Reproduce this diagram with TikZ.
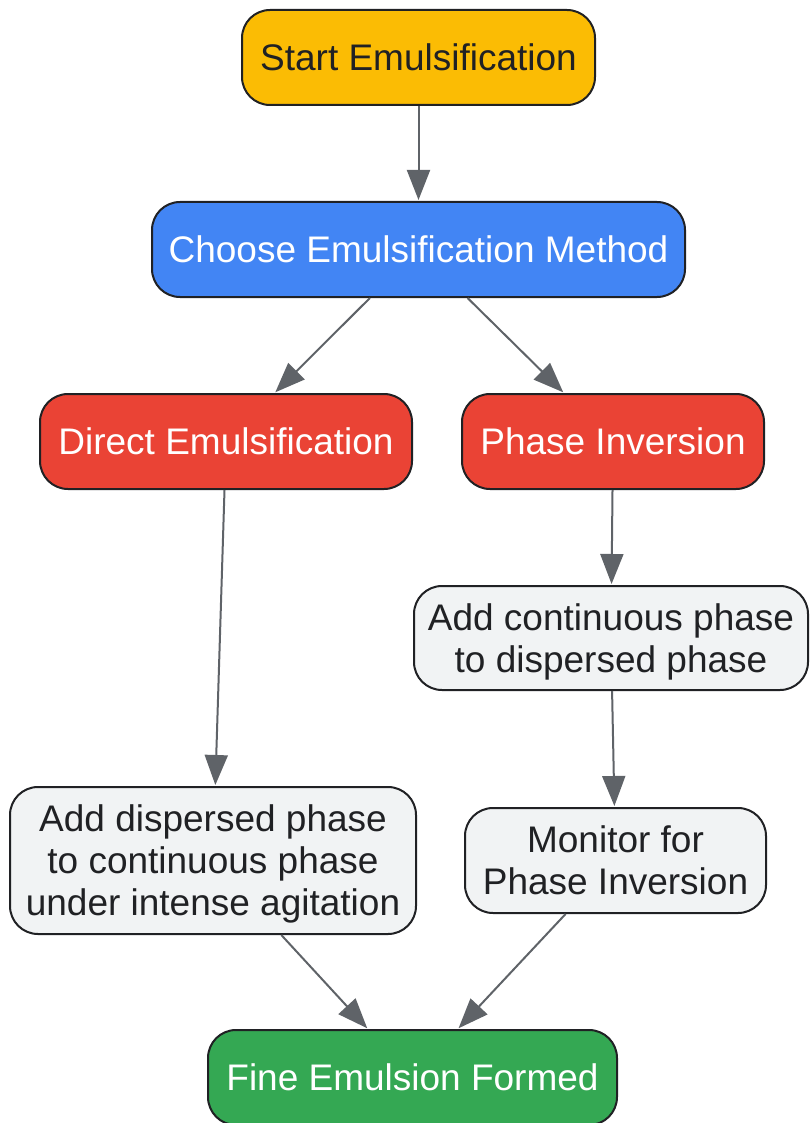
\documentclass[tikz,border=0pt]{standalone}
\usepackage{fontspec}
\setmainfont{Liberation Sans}
\usetikzlibrary{arrows.meta}
\definecolor{startc}{HTML}{FBBC04}
\definecolor{choosec}{HTML}{4285F4}
\definecolor{methodc}{HTML}{EA4335}
\definecolor{stepc}{HTML}{F1F3F4}
\definecolor{endc}{HTML}{34A853}
\definecolor{linec}{HTML}{202124}
\definecolor{flowc}{HTML}{5F6368}
\tikzstyle{block}=[draw=linec,line width=2pt,rounded corners=28pt,inner sep=0pt,align=center,
  text depth=0pt,font=\fontsize{37}{42}\selectfont]
\tikzstyle{dark}=[text=linec]
\tikzstyle{light}=[text=white]
\tikzstyle{flow}=[draw=flowc,line width=2pt,-{Triangle[length=30pt,width=23pt]},shorten >=1pt]
\newcommand{\newBlock}[4]{\node[block,#3](#1) at (#4) {#2};}
\newcommand{\newFlow}[2]{\draw[flow] (#1) -- (#2);}

\begin{document}
\begin{tikzpicture}[x=1pt,y=-1pt]
    \useasboundingbox (0,0) rectangle (809,1123);
    \newBlock{start}{Start Emulsification}{dark,fill=startc,minimum width=353pt,minimum height=95pt}{418.5,57.5}
    \newBlock{choose}{Choose Emulsification Method}{light,fill=choosec,minimum width=533pt,minimum height=95pt}{418.5,249.5}
    \newBlock{direct}{Direct Emulsification}{light,fill=methodc,minimum width=372pt,minimum height=95pt}{226,441.5}
    \newBlock{inversion}{Phase Inversion}{light,fill=methodc,minimum width=302pt,minimum height=95pt}{613,441.5}
    \newBlock{addcont}{Add continuous phase\\to dispersed phase}{dark,fill=stepc,minimum width=394pt,minimum height=104pt}{611,638}
    \newBlock{adddisp}{Add dispersed phase\\to continuous phase\\under intense agitation}{dark,fill=stepc,minimum width=406pt,minimum height=147pt}{213,860.5}
    \newBlock{monitor}{Monitor for\\Phase Inversion}{dark,fill=stepc,minimum width=301pt,minimum height=105pt}{615.5,860.5}
    \newBlock{fine}{Fine Emulsion Formed}{light,fill=endc,minimum width=409pt,minimum height=95pt}{412.5,1077.5}
    \newFlow{start}{choose}
    \newFlow{choose}{direct}
    \newFlow{choose}{inversion}
    \newFlow{direct}{adddisp}
    \newFlow{inversion}{addcont}
    \newFlow{addcont}{monitor}
    \newFlow{adddisp}{fine}
    \newFlow{monitor}{fine}
\end{tikzpicture}
\end{document}
